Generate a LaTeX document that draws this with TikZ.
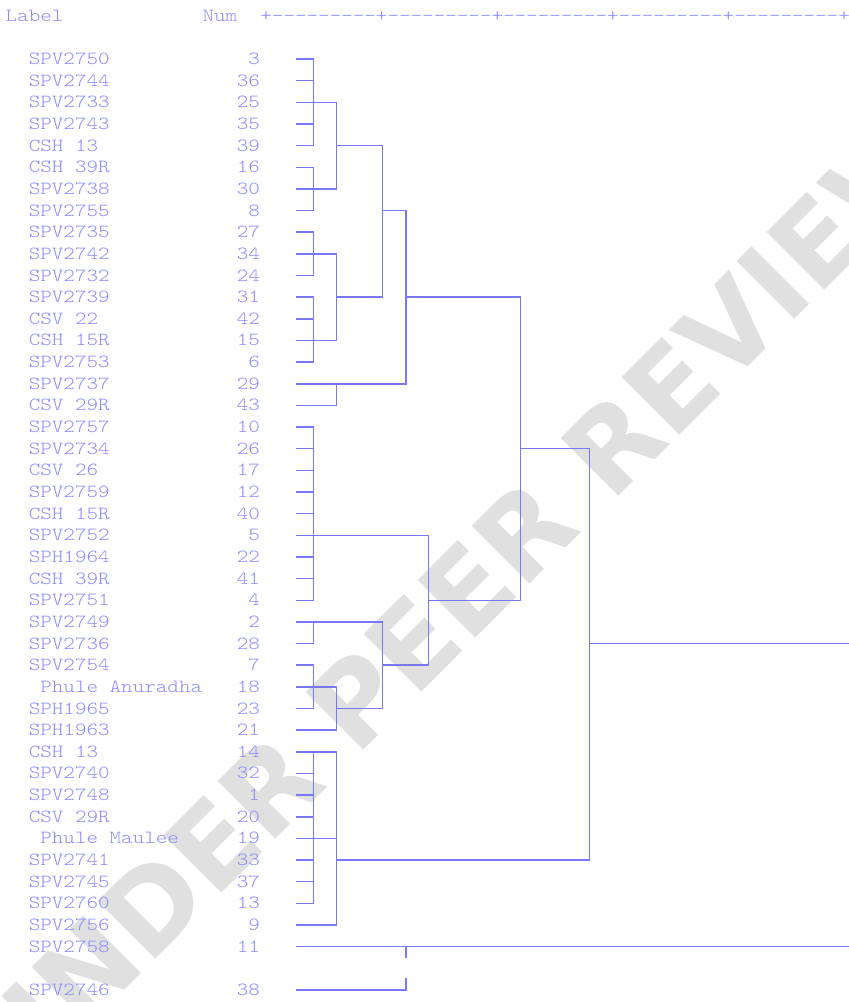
\documentclass[tikz,border=0pt]{standalone}
\usepackage{fontspec}
\setmonofont{Latin Modern Mono Light}[FakeStretch=1.19]
\newfontfamily\wmfont{DejaVu Sans}

\definecolor{spssline}{RGB}{120,120,255}
\definecolor{spsstext}{RGB}{140,140,255}
\newcommand{\spssfont}{\ttfamily\fontsize{18.5pt}{21.65pt}\selectfont}

\tikzset{
  lbl/.style={anchor=base west, inner sep=0pt, text=spsstext, font=\spssfont},
  num/.style={anchor=base east, inner sep=0pt, text=spsstext, font=\spssfont},
  tree/.style={draw=spssline, line width=1.5pt, line cap=rect},
  watermark/.style={text=black!12, inner sep=0pt, rotate=45,
    font=\wmfont\bfseries\fontsize{112pt}{112pt}\selectfont}
}

\begin{document}
\begin{tikzpicture}[x=1pt,y=-1pt]
\useasboundingbox (0,0) rectangle (849,1002);

% Watermark
\node[watermark] (wm) at (460,598) {UNDER PEER REVIEW};

% Header
\node[lbl] (hlabel) at (5.45,21.5) {Label};
\node[lbl] (hnum) at (202.3,21.5) {Num};
\node[lbl] (haxis) at (260.2,21.5) {+---------+---------+---------+---------+---------+};

% Columns of the joins
\coordinate (ca) at (313.3,0);
\coordinate (cb) at (336.7,0);
\coordinate (cc) at (382.7,0);
\coordinate (cd) at (406,0);
\coordinate (ce) at (428.3,0);
\coordinate (cf) at (520.7,0);
\coordinate (cg) at (589.3,0);
\coordinate (rim) at (849,0);

% Rows
\foreach \name/\num [count=\i] in {SPV2750/3, SPV2744/36, SPV2733/25, SPV2743/35,
    CSH 13/39, CSH 39R/16, SPV2738/30, SPV2755/8, SPV2735/27, SPV2742/34,
    SPV2732/24, SPV2739/31, CSV 22/42, CSH 15R/15, SPV2753/6, SPV2737/29,
    CSV 29R/43, SPV2757/10, SPV2734/26, CSV 26/17, SPV2759/12, CSH 15R/40,
    SPV2752/5, SPH1964/22, CSH 39R/41, SPV2751/4, SPV2749/2, SPV2736/28,
    SPV2754/7, \ Phule Anuradha/18, SPH1965/23, SPH1963/21, CSH 13/14,
    SPV2740/32, SPV2748/1, CSV 29R/20, \ Phule Maulee/19, SPV2741/33,
    SPV2745/37, SPV2760/13, SPV2756/9, SPV2758/11} {
  \pgfmathsetmacro\rowy{59+(\i-1)*21.65}
  \node[lbl] (name\i) at (28.6,\rowy+5.5) {\name};
  \node[num] (num\i) at (260.2,\rowy+5.5) {\num};
  \coordinate (l\i) at (297,\rowy);
}
\node[lbl] (name44) at (28.6,995.5) {SPV2746};
\node[num] (num44) at (260.2,995.5) {38};
\coordinate (l44) at (297,990);
\coordinate (g1) at (0,957.5);
\coordinate (g2) at (0,979.2);

% Leaf stubs
\foreach \i in {1,...,15} \draw[tree] (l\i) -- (l\i -| ca);
\foreach \i in {18,...,31} \draw[tree] (l\i) -- (l\i -| ca);
\foreach \i in {34,...,40} \draw[tree] (l\i) -- (l\i -| ca);
\foreach \i in {17,32,33,41} \draw[tree] (l\i) -- (l\i -| cb);
\draw[tree] (l16) -- (l16 -| cd);
\draw[tree] (l44) -- (l44 -| cd);
\draw[tree] (l42) -- (l42 -| rim);

% Joins: column/top/bottom/outgoing row/next column
\foreach \col/\top/\bot/\mid/\dest in {ca/1/5/3/cb, ca/6/8/7/cb, ca/9/11/10/cb,
    ca/12/15/14/cb, ca/18/26/23/ce, ca/27/28/27/cc, ca/29/31/30/cb, ca/33/40/37/cb,
    cb/3/7/5/cc, cb/10/14/12/cc, cb/30/32/31/cc, cb/33/41/38/cg,
    cc/5/12/8/cd, cc/27/31/29/ce, cd/8/16/12/cf, ce/23/29/26/cf,
    cf/12/26/19/cg, cg/19/38/28/rim}
  \draw[tree] (l\top -| \col) -- (l\bot -| \col) (l\mid -| \col) -- (l\mid -| \dest);
\draw[tree] (l16 -| cb) -- (l17 -| cb);

% Last pair
\draw[tree] (l42 -| cd) -- (g1 -| cd) (g2 -| cd) -- (l44 -| cd);

\end{tikzpicture}
\end{document}
